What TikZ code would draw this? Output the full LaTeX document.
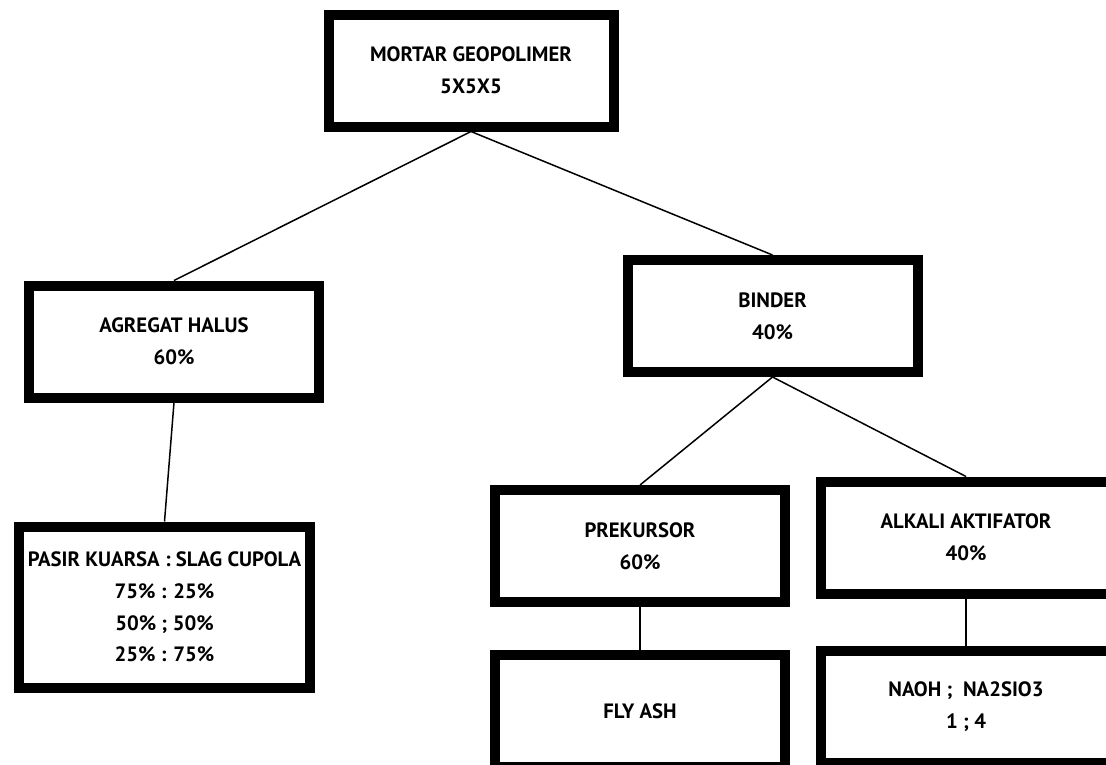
\documentclass[tikz,border=0pt]{standalone}
\usepackage{fontspec}
\setmainfont{PT Sans}
\usetikzlibrary{positioning}

\begin{document}
\begin{tikzpicture}[
  x=0.2mm, y=-0.2mm,
  node distance=8mm,
  box/.style={draw, line width=2mm, align=center, minimum width=58mm,
              minimum height=22.4mm, inner sep=1pt,
              font=\bfseries\fontsize{11.8}{18}\selectfont},
  tall/.style={minimum height=32.2mm},
  link/.style={line width=0.3mm}
]
\useasboundingbox (0,0) rectangle (1106,764);

\node[box, minimum width=57mm] (mortar) at (471,70.5) {MORTAR GEOPOLIMER\\5X5X5};
\node[box] (agregat) at (174,341.5) {AGREGAT HALUS\\60\%};
\node[box] (binder) at (772.5,316) {BINDER\\40\%};
\node[box, tall, below=23.8mm of agregat, xshift=-1.9mm] (pasir)
  {PASIR KUARSA : SLAG CUPOLA\\75\% : 25\%\\50\% ; 50\%\\25\% : 75\%};
\node[box] (prekursor) at (640,546) {PREKURSOR\\60\%};
\node[box] (alkali) at (966,537.5) {ALKALI AKTIFATOR\\40\%};
\node[box, below=8.6mm of prekursor] (flyash) {FLY ASH};
\node[box, below=9.4mm of alkali] (naoh) {NAOH ;~~NA2SIO3\\1 ; 4};

\draw[link] (mortar.south) -- (agregat.north);
\draw[link] (mortar.south) -- (binder.north);
\draw[link] (agregat.south) -- (pasir.north);
\draw[link] (binder.south) -- (prekursor.north);
\draw[link] (binder.south) -- (alkali.north);
\draw[link] (prekursor.south) -- (flyash.north);
\draw[link] (alkali.south) -- (naoh.north);
\end{tikzpicture}
\end{document}
